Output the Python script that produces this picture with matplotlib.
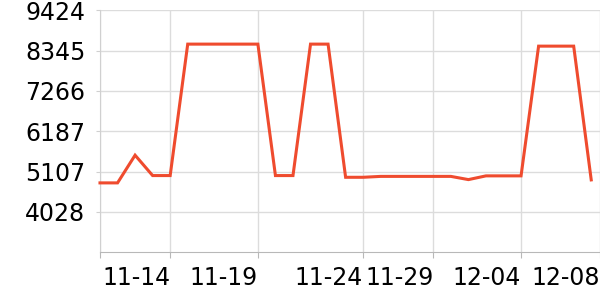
import matplotlib
matplotlib.use("Agg")
from matplotlib import pyplot as plt

# values (one point per sample)
values = [4806, 4806, 5547, 5002, 5002, 8519, 8519, 8519, 8519, 8519,
          5002, 5002, 8519, 8519, 4956, 4956, 4980, 4980, 4980, 4980,
          4980, 4894, 4994, 4994, 4994, 8465, 8465, 8465, 4886]
tick_pos = [0, 4, 9, 15, 19, 24, 28.5]
tick_labels = ["", "11-14", "11-19", "11-24", "11-29", "12-04", "12-08"]
y_ticks = [4028, 5107.2, 6186.5, 7265.7, 8344.9, 9424]
y_labels = ["4028", "5107", "6187", "7266", "8345", "9424"]
y_min = 2948.8

if __name__ == '__main__':
    fig = plt.figure(figsize=(6, 3), dpi=100)
    ax = fig.add_axes([100 / 600, 1 - 252.3 / 300, 500 / 600, (252.3 - 10.3) / 300])

    ax.plot(range(len(values)), values, color="#ef4b2e", linewidth=2.2,
            solid_joinstyle="miter", clip_on=False, zorder=3)

    ax.set_xlim(0, 28.5)
    ax.set_ylim(y_min, 9424)
    ax.set_xticks(tick_pos)
    ax.set_xticklabels(tick_labels, ha="right")
    ax.set_yticks(y_ticks)
    ax.set_yticklabels(y_labels)

    ax.grid(True, color="#dcdcdc", linewidth=1)
    ax.set_axisbelow(True)
    for side in ["top", "right"]:
        ax.spines[side].set_visible(False)
    ax.spines["left"].set_color("#d0d0d0")
    ax.spines["bottom"].set_color("#b8b8b8")
    ax.tick_params(axis="x", length=4, color="#b8b8b8", labelsize=17, pad=6)
    ax.tick_params(axis="y", length=3, color="#d0d0d0", labelsize=17, pad=7.5)

    fig.savefig("out.png", dpi=100)
